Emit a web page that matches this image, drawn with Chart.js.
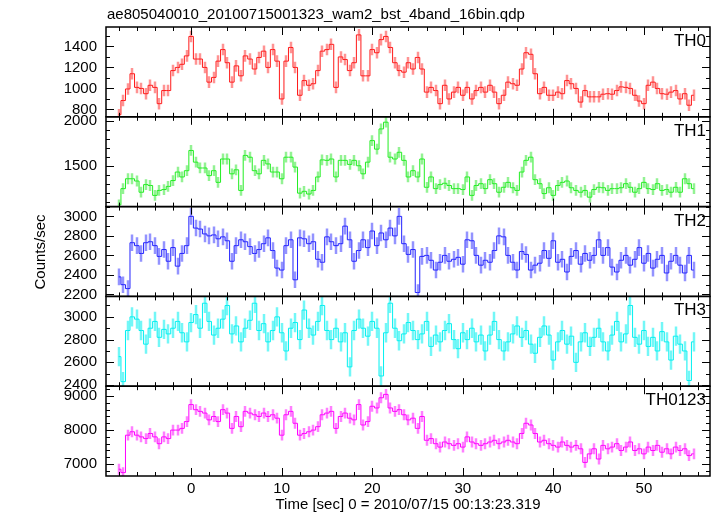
<!DOCTYPE html>
<html>
<head>
<meta charset="utf-8">
<script src="https://cdn.jsdelivr.net/npm/chart.js@4.4.1/dist/chart.umd.min.js"></script>
<style>
  html, body { margin: 0; padding: 0; background: #fff; }
  #lc { display: block; }
</style>
</head>
<body>
<canvas id="lc" width="717" height="516"></canvas>
<script>
/* light curve, 4 WAM bands + sum, one panel per band */

const times = [
  -8, -7.5, -7, -6.5, -6, -5.5, -5, -4.5, -4, -3.5,
  -3, -2.5, -2, -1.5, -1, -0.5, 0, 0.5, 1, 1.5,
  2, 2.5, 3, 3.5, 4, 4.5, 5, 5.5, 6, 6.5,
  7, 7.5, 8, 8.5, 9, 9.5, 10, 10.5, 11, 11.5,
  12, 12.5, 13, 13.5, 14, 14.5, 15, 15.5, 16, 16.5,
  17, 17.5, 18, 18.5, 19, 19.5, 20, 20.5, 21, 21.5,
  22, 22.5, 23, 23.5, 24, 24.5, 25,
  25.5, 26, 26.5, 27, 27.5, 28, 28.5, 29, 29.5, 30,
  30.5, 31, 31.5, 32, 32.5, 33, 33.5, 34, 34.5, 35,
  35.5, 36, 36.5, 37, 37.5, 38, 38.5, 39, 39.5, 40,
  40.5, 41, 41.5, 42, 42.5, 43, 43.5, 44, 44.5, 45,
  45.5, 46, 46.5, 47, 47.5, 48, 48.5, 49, 49.5, 50,
  50.5, 51, 51.5, 52, 52.5, 53, 53.5, 54, 54.5, 55, 55.5
];

const th0 = [
  750, 885, 995, 1140, 1010, 1000, 950, 1030, 1010, 855,
  980, 980, 1170, 1200, 1230, 1310, 1495, 1280, 1280, 1200,
  1060, 1105, 1260, 1370, 1245, 1060, 1215, 1120, 1310, 1280,
  1185, 1295, 1355, 1200, 1370, 1260, 900, 1260, 1390, 1200,
  935, 1075, 1030, 1045, 1170, 1355, 1370, 1420, 1010, 1300,
  1275, 1170, 1245, 1510, 1120, 1120, 1370, 1340, 1465, 1495,
  1390, 1245, 1170, 1155, 1245, 1185, 1295,
  1185, 965, 1010, 980, 855, 1030, 900, 965, 1010, 935,
  1010, 900, 980, 1010, 965, 1030, 965, 855, 935, 1060,
  1045, 1030, 1185, 1340, 1325, 1140, 950, 1010, 935, 935,
  965, 950, 1075, 1045, 1000, 870, 980, 920, 920, 920,
  945, 950, 945, 980, 1015, 1010, 1000, 935, 880, 855,
  1030, 1060, 1000, 950, 945, 965, 980, 900, 950, 840, 935
];

const th1 = [
  1070, 1250, 1360, 1360, 1335, 1210, 1295, 1285, 1175, 1230,
  1240, 1275, 1340, 1435, 1380, 1450, 1675, 1545, 1480, 1480,
  1395, 1450, 1320, 1580, 1580, 1415, 1460, 1230, 1620, 1600,
  1450, 1415, 1565, 1525, 1435, 1435, 1360, 1600, 1600, 1490,
  1200, 1220, 1190, 1230, 1380, 1570, 1565, 1580, 1380, 1565,
  1565, 1520, 1565, 1505, 1415, 1545, 1785, 1690, 1915, 1990,
  1600, 1580, 1655, 1565, 1380, 1450, 1380,
  1580, 1265, 1380, 1250, 1295, 1310, 1285, 1250, 1250, 1240,
  1380, 1175, 1285, 1305, 1250, 1350, 1305, 1210, 1265, 1320,
  1260, 1230, 1435, 1565, 1600, 1350, 1305, 1195, 1260, 1175,
  1285, 1320, 1335, 1260, 1230, 1210, 1230, 1155, 1240, 1265,
  1260, 1230, 1250, 1250, 1260, 1305, 1265, 1210, 1250, 1320,
  1250, 1240, 1305, 1230, 1240, 1210, 1265, 1210, 1360, 1305, 1250
];

const th2 = [
  2380, 2300, 2260, 2730, 2700, 2620, 2730, 2740, 2700, 2590,
  2660, 2540, 2680, 2490, 2620, 2700, 3000, 2880, 2870, 2820,
  2800, 2810, 2770, 2790, 2750, 2540, 2700, 2760, 2740, 2690,
  2620, 2660, 2720, 2780, 2650, 2470, 2450, 2700, 2760, 2350,
  2780, 2770, 2720, 2740, 2560, 2530, 2790, 2740, 2700, 2720,
  2900, 2760, 2540, 2650, 2760, 2680, 2850, 2700, 2830, 2760,
  2880, 2800, 3000, 2720, 2610, 2660, 2220,
  2590, 2600, 2550, 2450, 2530, 2600, 2540, 2560, 2580, 2510,
  2760, 2750, 2600, 2500, 2550, 2530, 2650, 2800, 2790, 2600,
  2530, 2450, 2640, 2610, 2450, 2500, 2520, 2650, 2570, 2750,
  2530, 2560, 2430, 2590, 2650, 2510, 2620, 2550, 2600, 2760,
  2600, 2680, 2480, 2430, 2550, 2600, 2500, 2560, 2680, 2520,
  2620, 2470, 2560, 2600, 2420, 2540, 2600, 2500, 2420, 2600, 2450
];

const th3 = [
  2650, 2430, 2880, 3000, 2980, 2880, 2760, 2900, 2960, 2820,
  2890, 2850, 2900, 2960, 2860, 2780, 2950, 3020, 2900, 3120,
  2960, 2840, 2900, 2980, 3100, 2850, 2920, 2780, 2900, 2970,
  3120, 2880, 2940, 2780, 2880, 3000, 2860, 2700, 2900, 2950,
  2800, 3060, 2900, 2840, 2960, 3100, 2880, 2800, 2900, 2780,
  2860, 2560, 2880, 2980, 2900, 2830, 2960, 2900, 2480, 2860,
  3120, 2900, 2790, 2850, 2950, 2880, 2800,
  2850, 2960, 2740, 2840, 2780, 2880, 2940, 2800, 2720, 2860,
  2800, 2900, 2780, 2840, 2700, 2840, 2960, 2800, 2700, 2780,
  2850, 2920, 2820, 2880, 2760, 2680, 2820, 2920, 2840, 2620,
  2780, 2880, 2760, 2830, 2600, 2780, 2860, 2740, 2820, 2900,
  2780, 2700, 2840, 2960, 2780, 2850, 3100, 2820, 2760, 2880,
  2740, 2820, 2700, 2870, 2780, 2620, 2830, 2760, 2700, 2440, 2780
];

const th0123 = [
  6850, 6750, 7850, 7950, 7850, 7800, 7750, 7900, 7800, 7600,
  7800, 7750, 8000, 8000, 8050, 8250, 8750, 8600, 8550, 8500,
  8300, 8400, 8250, 8600, 8500, 8050, 8400, 8100, 8550, 8500,
  8450, 8400, 8500, 8400, 8450, 8350, 7850, 8450, 8550, 8200,
  7850, 7900, 7950, 8000, 8100, 8450, 8500, 8550, 8050, 8400,
  8500, 8350, 8300, 8750, 8150, 8250, 8700, 8650, 8950, 9050,
  8650, 8550, 8600, 8450, 8300, 8350, 8050,
  8400, 7700, 7750, 7600, 7500, 7650, 7600, 7550, 7600, 7500,
  7800, 7650, 7600, 7550, 7600, 7650, 7700, 7600, 7650, 7700,
  7650, 7600, 7900, 8200, 8150, 7900, 7650, 7700, 7600, 7550,
  7500, 7650, 7550, 7500, 7550, 7450, 7050, 7300, 7450, 7150,
  7550, 7450, 7500, 7600, 7400, 7500, 7650, 7400, 7450, 7300,
  7500, 7400, 7550, 7350, 7450, 7300, 7500, 7400, 7450, 7250, 7300
];

const bands = ['TH0', 'TH1', 'TH2', 'TH3', 'TH0123'];
const series = [th0, th1, th2, th3, th0123];
const errors = [55, 60, 85, 85, 160];
const colors = ['#ff1a1a', '#22ee22', '#2222ff', '#00f0f0', '#ff00ff'];
const barColors = ['rgba(255,40,40,0.5)', 'rgba(40,230,40,0.5)', 'rgba(40,40,255,0.5)',
                   'rgba(0,240,240,0.55)', 'rgba(255,0,255,0.5)'];
const yRanges = [[730, 1585], [1050, 2050], [2180, 3100], [2390, 3180], [6650, 9290]];
const yLabels = [[800, 1000, 1200, 1400], [1500, 2000], [2200, 2400, 2600, 2800, 3000],
                 [2400, 2600, 2800, 3000], [7000, 8000, 9000]];
const yMinor = [100, 100, 100, 100, 200];
const yMajor = [200, 500, 200, 200, 1000];
const xLabels = [0, 10, 20, 30, 40, 50];
const xRange = [-9.4, 57.3];

const FONT = '"Liberation Sans", Arial, Helvetica, sans-serif';
Chart.defaults.font.family = FONT;
Chart.defaults.font.size = 15;
Chart.defaults.color = '#000';

const scales = {
  x: {
    type: 'linear',
    position: 'bottom',
    min: xRange[0],
    max: xRange[1],
    afterBuildTicks: s => { s.ticks = xLabels.map(v => ({ value: v })); },
    afterFit: s => { s.height = 40; },
    grid: { display: false, drawTicks: false },
    border: { display: false },
    ticks: { padding: 4, maxRotation: 0, autoSkip: false, callback: v => String(v) },
    title: {
      display: true,
      text: 'Time [sec] 0 = 2010/07/15 00:13:23.319',
      padding: { top: 0, bottom: 2 }
    }
  }
};

bands.forEach((b, i) => {
  scales['y' + i] = {
    type: 'linear',
    position: 'left',
    stack: 'panels',
    stackWeight: 1,
    weight: 5 - i,
    min: yRanges[i][0],
    max: yRanges[i][1],
    afterBuildTicks: s => { s.ticks = yLabels[i].map(v => ({ value: v })); },
    afterFit: s => { s.width = 106; },
    grid: { display: false, drawTicks: false },
    border: { display: false },
    ticks: { padding: 9, autoSkip: false, callback: v => String(v) }
  };
});

function drawTick(ctx, x1, y1, x2, y2) {
  ctx.moveTo(x1, y1);
  ctx.lineTo(x2, y2);
}

const panelDecor = {
  id: 'panelDecor',
  beforeDatasetsDraw(chart) {
    const ctx = chart.ctx;
    const xs = chart.scales.x;
    const area = chart.chartArea;
    series.forEach((vals, i) => {
      const ys = chart.scales['y' + i];
      ctx.save();
      ctx.beginPath();
      ctx.rect(area.left, ys.top, area.right - area.left, ys.bottom - ys.top);
      ctx.clip();
      ctx.strokeStyle = barColors[i];
      ctx.lineWidth = 2.5;
      ctx.beginPath();
      vals.forEach((v, k) => {
        const px = Math.round(xs.getPixelForValue(times[k]));
        ctx.moveTo(px, ys.getPixelForValue(v - errors[i]));
        ctx.lineTo(px, ys.getPixelForValue(v + errors[i]));
      });
      ctx.stroke();
      ctx.restore();
    });
  },
  afterDraw(chart) {
    const ctx = chart.ctx;
    const xs = chart.scales.x;
    const area = chart.chartArea;
    ctx.save();
    ctx.strokeStyle = '#000';
    ctx.fillStyle = '#000';

    bands.forEach((b, i) => {
      const ys = chart.scales['y' + i];
      const top = ys.top, bottom = ys.bottom;

      ctx.lineWidth = 1.5;
      ctx.strokeRect(area.left, top, area.right - area.left, bottom - top);

      // time ticks on both edges of the panel, pointing in
      ctx.lineWidth = 1;
      ctx.beginPath();
      for (let v = -8; v <= 56; v += 2) {
        const px = Math.round(xs.getPixelForValue(v)) + 0.5;
        const len = v % 10 === 0 ? 8 : 4;
        drawTick(ctx, px, top, px, top + len);
        drawTick(ctx, px, bottom, px, bottom - len);
      }
      // count ticks on left and right edges
      const start = Math.ceil(yRanges[i][0] / yMinor[i]) * yMinor[i];
      for (let v = start; v <= yRanges[i][1]; v += yMinor[i]) {
        const py = Math.round(ys.getPixelForValue(v)) + 0.5;
        const len = v % yMajor[i] === 0 || yLabels[i].includes(v) ? 8 : 4;
        drawTick(ctx, area.left, py, area.left + len, py);
        drawTick(ctx, area.right, py, area.right - len, py);
      }
      ctx.stroke();

      ctx.font = '17px ' + FONT;
      ctx.textAlign = 'right';
      ctx.textBaseline = 'alphabetic';
      ctx.fillText(b, area.right - 4, top + 19);
    });

    ctx.font = '15px ' + FONT;
    ctx.textAlign = 'left';
    ctx.textBaseline = 'alphabetic';
    ctx.fillText('ae805040010_20100715001323_wam2_bst_4band_16bin.qdp', 107, 19);

    ctx.save();
    ctx.translate(41, 252);
    ctx.rotate(-Math.PI / 2);
    ctx.textAlign = 'center';
    ctx.textBaseline = 'middle';
    ctx.fillText('Counts/sec', 0, 0);
    ctx.restore();

    ctx.restore();
  }
};

new Chart(document.getElementById('lc'), {
  type: 'line',
  data: {
    datasets: series.map((vals, i) => ({
      label: bands[i],
      data: vals.map((v, k) => ({ x: times[k], y: v })),
      yAxisID: 'y' + i,
      borderColor: colors[i],
      borderWidth: 1,
      pointRadius: 0,
      stepped: 'middle',
      fill: false
    }))
  },
  options: {
    responsive: false,
    animation: false,
    devicePixelRatio: 1,
    layout: { padding: { left: 0, right: 7, top: 27, bottom: 0 } },
    plugins: { legend: { display: false }, tooltip: { enabled: false } },
    scales: scales
  },
  plugins: [panelDecor]
});
</script>
</body>
</html>
